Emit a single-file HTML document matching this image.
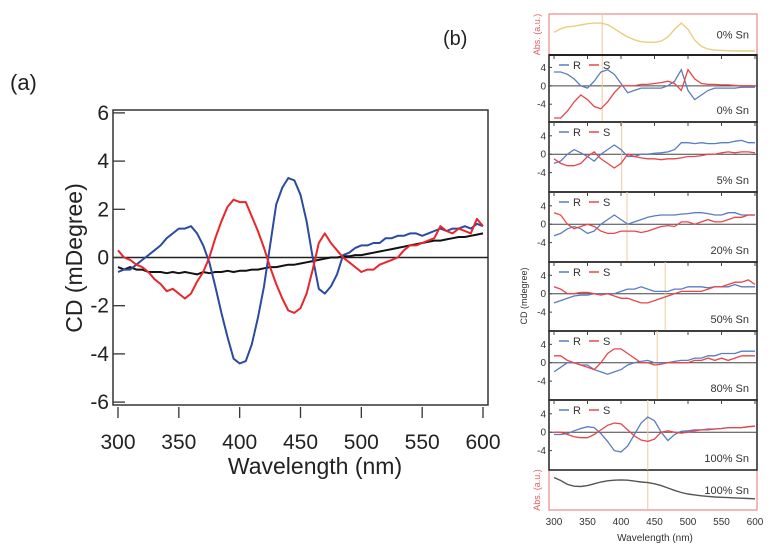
<!DOCTYPE html>
<html><head><meta charset="utf-8">
<style>
html,body{margin:0;padding:0;background:#fff;}
svg{display:block;font-family:"Liberation Sans",Arial,sans-serif;}
</style></head>
<body>
<svg id="fig" width="778" height="551" viewBox="0 0 778 551">
  <text x="10" y="90" font-size="22" fill="#222">(a)</text>
  <text x="443" y="45" font-size="20" fill="#222">(b)</text>
  <g id="pa"></g>
  <g id="pb"></g>
</svg>
<script>
// ---------- Panel (a) data ----------
const aWavelengths = [300,305,310,315,320,325,330,335,340,345,350,355,360,365,370,375,380,385,390,395,400,405,410,415,420,425,430,435,440,445,450,455,460,465,470,475,480,485,490,495,500,505,510,515,520,525,530,535,540,545,550,555,560,565,570,575,580,585,590,595,600];
const aBlue = [-0.6,-0.5,-0.5,-0.3,-0.1,0.1,0.3,0.5,0.8,1.0,1.2,1.2,1.3,1.0,0.5,-0.2,-1.2,-2.3,-3.3,-4.2,-4.4,-4.3,-3.6,-2.5,-1.2,0.5,2.2,2.9,3.3,3.2,2.6,1.5,0.0,-1.3,-1.5,-1.2,-0.7,0.1,0.2,0.4,0.5,0.5,0.6,0.6,0.8,0.8,0.9,0.9,1.0,1.0,0.9,1.0,1.1,1.2,1.1,1.2,1.2,1.3,1.2,1.4,1.3];
const aRed = [0.3,0.0,-0.1,-0.3,-0.4,-0.6,-0.9,-1.1,-1.4,-1.3,-1.5,-1.7,-1.5,-1.0,-0.6,0.0,0.8,1.5,2.1,2.4,2.3,2.3,1.7,1.1,0.4,-0.4,-1.1,-1.7,-2.2,-2.3,-2.1,-1.5,-0.5,0.6,1.0,0.6,0.3,0.0,-0.2,-0.4,-0.6,-0.5,-0.5,-0.3,-0.2,-0.1,0.0,0.3,0.5,0.5,0.6,0.7,0.8,1.3,1.1,1.0,1.2,1.1,1.0,1.6,1.3];
const aBlack = [-0.4,-0.5,-0.4,-0.5,-0.5,-0.6,-0.6,-0.6,-0.65,-0.6,-0.65,-0.6,-0.65,-0.7,-0.6,-0.65,-0.6,-0.6,-0.55,-0.6,-0.55,-0.55,-0.5,-0.5,-0.45,-0.4,-0.4,-0.35,-0.3,-0.3,-0.25,-0.2,-0.15,-0.1,-0.05,0.0,0.0,0.05,0.05,0.1,0.1,0.15,0.2,0.25,0.3,0.35,0.4,0.45,0.5,0.55,0.6,0.65,0.7,0.7,0.75,0.8,0.85,0.85,0.9,0.95,1.0];
const aXTicks = [300,350,400,450,500,550,600];
const aYTicks = [6,4,2,0,-2,-4,-6];

// ---------- Panel (b) data ----------
const bWavelengths = [300,310,320,330,340,350,360,370,380,390,400,410,420,430,440,450,460,470,480,490,500,510,520,530,540,550,560,570,580,590,600];
const bLabels = ["0% Sn","5% Sn","20% Sn","50% Sn","80% Sn","100% Sn"];
const bMarkers = [372,401,409,466,454,440];
const bR0 = [3,3,2.5,1.5,0,-0.5,1,3,3.5,2.5,0.5,-1.5,-1,-0.5,-0.5,-0.5,-0.5,0,1,3.5,-1,-3,-2,-1,-0.5,-0.5,-0.5,-0.5,-0.3,-0.3,-0.3];
const bS0 = [-7,-7,-5.5,-3.5,-2,-3,-4.5,-5,-3.5,-1.5,0,0,0,0.3,0.3,0.5,0.7,1,0.5,-1,3.5,1.5,0.5,0.3,0.3,0.2,0.2,0.1,0,0,0];
const bR5 = [-2,-1.5,0,1,0.3,-0.5,-1.5,0,1,2,1,-0.5,-0.5,0,0,0.2,0.3,0.5,1,2.5,2.5,2.3,2.5,2.3,2.3,2.5,2.5,2.8,3,2.5,2.5];
const bS5 = [-1,-2,-2.5,-2.5,-2,-0.5,0.5,-1,-2,-3,-2,0,-0.5,-0.8,-1,-1,-1.2,-1,-1,-0.8,-0.5,-0.5,-0.3,0,0,0.3,0.5,0.3,0.5,0.5,0.3];
const bR20 = [-2.5,-2,-1,-0.5,-1,-2,-1.5,0,1,2,1,0,0.5,1,1.5,1.8,2,2,2,2.2,2.3,2.5,2.5,2.3,2,2,2.5,2.5,2,2,2];
const bS20 = [2.5,2,0,-1,-0.5,0,-0.5,-1.5,-2,-2,-1.5,-1.5,-1.5,-1.8,-1.5,-1,-0.5,-0.3,-0.5,0.5,0.5,0,0.5,1,0.5,0.5,1,1.5,1.5,2,2];
const bR50 = [-2,-1.5,-1,-0.5,-0.3,-0.3,0,0,0,0,0.5,1,1,1.5,1,0.5,0.5,0.5,1,1,1.5,1.5,1.5,1.3,1.5,1.5,1.5,2,1.5,1.5,1.5];
const bS50 = [1.5,1,0,0,0.3,0.3,0,-0.3,0,-0.5,-1,-1,-1.5,-2,-2,-1.5,-1,-0.5,0,0.5,0.5,0.5,0.5,1,1.5,1.5,2,2.5,2.5,3,2];
const bR80 = [-2,-1,0,0,-0.5,-0.5,-1.5,-2,-2.5,-2,-1.5,-0.5,0,0.3,0.5,0,0,0,0.3,0.5,0.5,1,1,1.5,1.5,2,2,2,2.5,2.5,2.5];
const bS80 = [1.5,1.5,0.5,0,-0.5,-1,-1.5,0,2,3,3,2,1,0,0,-0.5,-0.3,0,0,0,0,0.5,0.5,1,0.5,1,0.5,1,1.5,1.5,1.5];
const bR100 = [-0.5,-0.5,-0.3,0.3,0.8,1.2,1,-0.3,-2,-4,-4.3,-3,-0.5,2,3.3,2.5,0,-1.8,-0.5,0.2,0.3,0.5,0.5,0.7,0.7,0.8,1,1,1,1.2,1.3];
const bS100 = [0,0,-0.5,-1,-1.2,-1.2,-0.5,0.5,1.5,2,1.8,0.5,-0.8,-1.7,-2,-1.5,0,0.3,0,-0.2,0,0.3,0.5,0.5,0.7,0.8,1,1,1,1.2,1.3];
const bAbs0 = [0.6,0.72,0.78,0.8,0.84,0.88,0.9,0.9,0.85,0.72,0.58,0.45,0.36,0.3,0.28,0.28,0.32,0.45,0.7,0.9,0.7,0.35,0.15,0.06,0.03,0.02,0.01,0,0,0,0];
const bAbs100 = [0.95,0.85,0.72,0.66,0.65,0.68,0.74,0.8,0.84,0.86,0.87,0.86,0.83,0.8,0.78,0.74,0.68,0.6,0.52,0.45,0.4,0.37,0.34,0.32,0.3,0.29,0.28,0.27,0.26,0.25,0.24];
const bXTicks = [300,350,400,450,500,550,600];
const bYTicks = [4,0,-4];

const NS = "http://www.w3.org/2000/svg";
function mk(parent, tag, attrs, text){
  const e = document.createElementNS(NS, tag);
  for (const k in attrs) e.setAttribute(k, attrs[k]);
  if (text !== undefined) e.textContent = text;
  parent.appendChild(e);
  return e;
}
function pathD(xs, ys, fx, fy){
  return xs.map((x,i)=>(i?"L":"M")+fx(x).toFixed(1)+","+fy(ys[i]).toFixed(1)).join("");
}

// ---------- Draw panel (a) ----------
(function(){
  const g = document.getElementById("pa");
  const L=113, R=488, T=110, B=405;
  const xS = v => 118 + (v-300)/300*(483-118);
  const yS = v => 257.5 - v*24.1;
  const frame = mk(g,"rect",{x:L,y:T,width:R-L,height:B-T,fill:"none",stroke:"#333","stroke-width":1.5});
  
  
  const zl = mk(g,"line",{x1:L,x2:R,y1:yS(0),y2:yS(0),stroke:"#222","stroke-width":1.5});
  
  
  aYTicks.forEach(t=>{
    const y=yS(t);
    const tk = mk(g,"line",{x1:L,x2:L+12,y1:y,y2:y,stroke:"#333","stroke-width":1.3});
    
    
    const lb = mk(g,"text",{x:L-4,y:y+7,"font-size":21,"text-anchor":"end",fill:"#222"},String(t));
    
    
  });
  aXTicks.forEach(t=>{
    const x=xS(t);
    const tk = mk(g,"line",{x1:x,x2:x,y1:B+2,y2:B+13,stroke:"#333","stroke-width":1.3});
    
    
    const lb = mk(g,"text",{x:x,y:B+44,"font-size":21,"text-anchor":"middle",fill:"#222"},String(t));
    
    
  });
  const xt = mk(g,"text",{x:315,y:474,"font-size":23,"text-anchor":"middle",fill:"#222"},"Wavelength (nm)");
  
  
  const yt = mk(g,"text",{x:0,y:0,"font-size":23,"text-anchor":"middle",fill:"#222",transform:"translate(82,258) rotate(-90)"},"CD (mDegree)");
  
  
  const series = [[aBlack,"#111","series-black"],[aBlue,"#2b4aa0","series-blue"],[aRed,"#e8262b","series-red"]];
  series.forEach(s=>{
    const p = mk(g,"path",{d:pathD(aWavelengths,s[0],xS,yS),fill:"none",stroke:s[1],"stroke-width":2,"stroke-linejoin":"round"});
    
    
  });
})();

// ---------- Draw panel (b) ----------
(function(){
  const g = document.getElementById("pb");
  const L=549, R=757;
  const xS = v => 554 + (v-300)/300*(755-554);
  const bounds = [[14,55],[55,122],[122,192],[192,262],[262,331],[331,400],[400,470],[470,510]];
  const cdR = [bR0,bR5,bR20,bR50,bR80,bR100];
  const cdS = [bS0,bS5,bS20,bS50,bS80,bS100];
  [[0,bAbs0,"#e8cf80",bMarkers[0],"abs-0-sn"],[7,bAbs100,"#555",bMarkers[5],"abs-100-sn"]].forEach(a=>{
    const [t,b]=bounds[a[0]];
    const fr = mk(g,"rect",{x:L,y:t,width:R-L,height:b-t,fill:"none",stroke:"#e88","stroke-width":1.2});
    
    
    const ml = mk(g,"line",{x1:xS(a[3]),x2:xS(a[3]),y1:t,y2:b,stroke:"#f0c8a0","stroke-width":1});
    
    
    const fy = v => b-4 - v*(b-t-10);
    const p = mk(g,"path",{d:pathD(bWavelengths,a[1],xS,fy),fill:"none",stroke:a[2],"stroke-width":1.4});
    
    
    const lb = mk(g,"text",{x:R-8,y:(t+b)/2+4,"font-size":11,"text-anchor":"end",fill:"#333"},a[0]===0?"0% Sn":"100% Sn");
    
    
    const at = mk(g,"text",{x:0,y:0,"font-size":9,"text-anchor":"middle",fill:"#e06060",transform:"translate(540,"+((t+b)/2)+") rotate(-90)"},"Abs. (a.u.)");
    
    
  });
  for(let i=0;i<6;i++){
    const [t,b]=bounds[i+1];
    const z = t+ (b-t)*0.46;
    const yS = v => z - v*4.6;
    const fr = mk(g,"rect",{x:L,y:t,width:R-L,height:b-t,fill:"none",stroke:"#222","stroke-width":1.5});
    
    
    const zl = mk(g,"line",{x1:L,x2:R,y1:yS(0),y2:yS(0),stroke:"#444","stroke-width":1});
    
    
    const ml = mk(g,"line",{x1:xS(bMarkers[i]),x2:xS(bMarkers[i]),y1:t,y2:b,stroke:"#f0c8a0","stroke-width":1});
    
    
    bYTicks.forEach(v=>{
      const lb = mk(g,"text",{x:L-3,y:yS(v)+3.5,"font-size":10,"text-anchor":"end",fill:"#333"},String(v));
      
      
      const tk = mk(g,"line",{x1:L,x2:L+3,y1:yS(v),y2:yS(v),stroke:"#444"});
      
      
    });
    bXTicks.forEach(v=>{
      const tk = mk(g,"line",{x1:xS(v),x2:xS(v),y1:t,y2:t+4,stroke:"#444"});
      
      
    });
    const pr = mk(g,"path",{d:pathD(bWavelengths,cdR[i],xS,yS),fill:"none",stroke:"#5a7cc0","stroke-width":1.3});
    
    
    const ps = mk(g,"path",{d:pathD(bWavelengths,cdS[i],xS,yS),fill:"none",stroke:"#e8464a","stroke-width":1.3});
    
    
    const ly = t+10;
    const l1 = mk(g,"line",{x1:L+10,x2:L+20,y1:ly,y2:ly,stroke:"#5a7cc0","stroke-width":1.5});
    
    
    const t1 = mk(g,"text",{x:L+24,y:ly+4,"font-size":11,fill:"#333"},"R");
    
    
    const l2 = mk(g,"line",{x1:L+40,x2:L+50,y1:ly,y2:ly,stroke:"#e8464a","stroke-width":1.5});
    
    
    const t2 = mk(g,"text",{x:L+54,y:ly+4,"font-size":11,fill:"#333"},"S");
    
    
    const sl = mk(g,"text",{x:R-8,y:b-8,"font-size":11,"text-anchor":"end",fill:"#333"},bLabels[i]);
    
    
  }
  const sep = mk(g,"line",{x1:L,x2:R,y1:55,y2:55,stroke:"#222","stroke-width":2});
  
  
  bXTicks.forEach(v=>{
    const lb = mk(g,"text",{x:xS(v),y:525,"font-size":10,"text-anchor":"middle",fill:"#333"},String(v));
    
    
  });
  const xt = mk(g,"text",{x:655,y:541,"font-size":10,"text-anchor":"middle",fill:"#333"},"Wavelength (nm)");
  
  
  const yt = mk(g,"text",{x:0,y:0,"font-size":9,"text-anchor":"middle",fill:"#333",transform:"translate(527,296) rotate(-90)"},"CD (mdegree)");
  
  
})();
</script>
</body></html>
